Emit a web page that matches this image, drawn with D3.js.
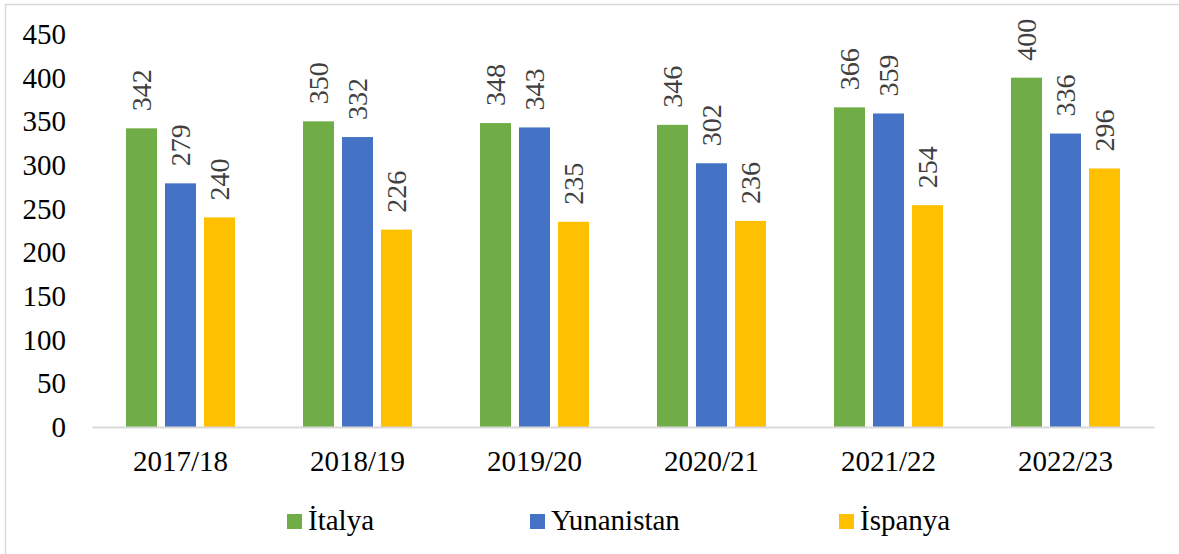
<!DOCTYPE html>
<html>
<head>
<meta charset="utf-8">
<script src="https://cdn.jsdelivr.net/npm/d3@7"></script>
<style>
  html, body { margin: 0; padding: 0; background: #fff; }
  svg { display: block; }
</style>
</head>
<body>
<svg id="chart" width="1179" height="554"></svg>
<script>
// chart data
const years = ["2017/18", "2018/19", "2019/20", "2020/21", "2021/22", "2022/23"];
const seriesNames = ["İtalya", "Yunanistan", "İspanya"];
const italya = [342, 350, 348, 346, 366, 400];
const yunanistan = [279, 332, 343, 302, 359, 336];
const ispanya = [240, 226, 235, 236, 254, 296];
const yTicks = [0, 50, 100, 150, 200, 250, 300, 350, 400, 450];
const colors = ["#70AD47", "#4472C4", "#FFC000"];

const serif = "'Liberation Serif', 'Times New Roman', Tinos, 'DejaVu Serif', serif";

drawChart();

function drawChart() {
  const svg = d3.select("#chart");
  const seriesValues = [italya, yunanistan, ispanya];

  // flatten into rows for the bars
  const rows = [];
  years.forEach(function(yr, i) {
    seriesNames.forEach(function(s, j) {
      rows.push({ year: yr, series: s, value: seriesValues[j][i], color: colors[j] });
    });
  });

  // outer frame
  svg.append("rect")
    .attr("x", 5.5).attr("y", 4.5)
    .attr("width", 1200).attr("height", 600)
    .attr("fill", "none")
    .attr("stroke", "#d9d9d9")
    .attr("stroke-width", 1.5);

  const x0 = d3.scaleBand()
    .domain(years)
    .range([92, 1154]);

  const x1 = d3.scaleBand()
    .domain(seriesNames)
    .range([34, 143])
    .paddingInner(8 / 39);

  const y = d3.scaleLinear()
    .domain([0, 450])
    .range([427, 34]);

  // y axis labels (no line, no ticks)
  const yAxis = svg.append("g")
    .attr("transform", "translate(66,0)")
    .call(d3.axisLeft(y).tickValues(yTicks).tickSize(0).tickPadding(0));
  yAxis.attr("font-family", serif).attr("font-size", 29);
  yAxis.select(".domain").remove();
  yAxis.selectAll("text")
    .attr("fill", "#000")
    .attr("dy", "0.33em");

  // bars
  svg.append("g")
    .selectAll("rect")
    .data(rows)
    .enter()
    .append("rect")
    .attr("x", function(d) { return x0(d.year) + x1(d.series); })
    .attr("y", function(d) { return y(d.value); })
    .attr("width", x1.bandwidth())
    .attr("height", function(d) { return y(0) - y(d.value); })
    .attr("fill", function(d) { return d.color; });

  // value labels, rotated
  svg.append("g")
    .attr("font-family", serif)
    .attr("font-size", 28)
    .selectAll("text")
    .data(rows)
    .enter()
    .append("text")
    .attr("transform", function(d) {
      const cx = x0(d.year) + x1(d.series) + x1.bandwidth() / 2;
      return "translate(" + cx + "," + (y(d.value) - 17) + ") rotate(-90)";
    })
    .attr("dy", "0.33em")
    .attr("text-anchor", "start")
    .attr("fill", "#404040")
    .text(function(d) { return d.value; });

  // x axis
  const xAxis = svg.append("g")
    .attr("transform", "translate(0,427)")
    .call(d3.axisBottom(x0).tickSize(0).tickPadding(0));
  xAxis.attr("font-family", serif).attr("font-size", 29);
  xAxis.select(".domain")
    .attr("stroke", "#d9d9d9")
    .attr("stroke-width", 2);
  xAxis.selectAll("text")
    .attr("fill", "#000")
    .attr("dy", null)
    .attr("y", 44);

  // legend
  const legendX = [287, 530, 839];
  const legend = svg.append("g")
    .attr("font-family", serif)
    .attr("font-size", 29);
  seriesNames.forEach(function(s, j) {
    legend.append("rect")
      .attr("x", legendX[j]).attr("y", 514)
      .attr("width", 15).attr("height", 15)
      .attr("fill", colors[j]);
    legend.append("text")
      .attr("x", legendX[j] + 21).attr("y", 530)
      .attr("fill", "#000")
      .text(s);
  });
}
</script>
</body>
</html>
